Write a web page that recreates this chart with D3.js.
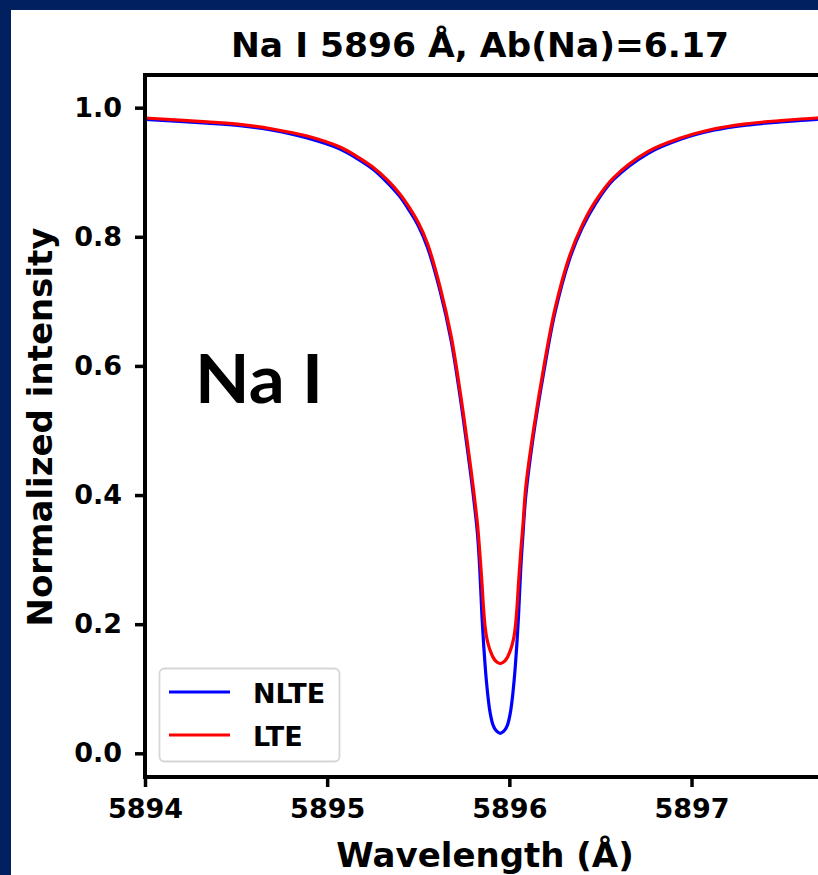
<!DOCTYPE html>
<html>
<head>
<meta charset="utf-8">
<script src="https://cdn.jsdelivr.net/npm/d3@7"></script>
<style>
  html, body { margin: 0; padding: 0; background: #002060; }
  svg { display: block; }
</style>
</head>
<body>
<svg id="chart" width="818" height="875"></svg>
<script>
// Na I 5896 Å synthetic line profiles
const wavelength = [
  5894.00, 5894.34, 5894.52, 5894.70, 5894.89, 5895.07, 5895.16, 5895.25,
  5895.33, 5895.40, 5895.45, 5895.50, 5895.55, 5895.62, 5895.68, 5895.73,
  5895.775, 5895.80, 5895.825, 5895.837, 5895.85, 5895.859, 5895.867,
  5895.875, 5895.885, 5895.895, 5895.91, 5895.925, 5895.95,
  5895.975, 5895.99, 5896.005, 5896.015, 5896.025, 5896.033, 5896.041,
  5896.05, 5896.063, 5896.075, 5896.09, 5896.13, 5896.19, 5896.25, 5896.33,
  5896.40, 5896.47, 5896.57, 5896.76, 5896.94, 5897.12, 5897.30, 5897.49,
  5897.69, 5898.00
];
const lte = [
  0.984, 0.978, 0.974, 0.967, 0.956, 0.939, 0.925, 0.908,
  0.888, 0.866, 0.846, 0.822, 0.790, 0.722, 0.647, 0.560,
  0.470, 0.416, 0.355, 0.314, 0.262, 0.222, 0.196,
  0.180, 0.168, 0.159, 0.149, 0.143, 0.139,
  0.143, 0.149, 0.159, 0.168, 0.180, 0.196, 0.222,
  0.262, 0.314, 0.355, 0.412, 0.496, 0.600, 0.688, 0.770,
  0.818, 0.854, 0.891, 0.932, 0.953, 0.967, 0.975, 0.980,
  0.984, 0.987
];
const nlte = [
  0.982, 0.976, 0.972, 0.965, 0.953, 0.936, 0.922, 0.905,
  0.884, 0.862, 0.841, 0.817, 0.784, 0.716, 0.640, 0.552,
  0.460, 0.405, 0.340, 0.288, 0.211, 0.168, 0.136,
  0.109, 0.082, 0.062, 0.044, 0.036, 0.031,
  0.036, 0.044, 0.062, 0.082, 0.109, 0.136, 0.168,
  0.211, 0.288, 0.340, 0.398, 0.488, 0.592, 0.682, 0.765,
  0.814, 0.850, 0.888, 0.929, 0.951, 0.965, 0.973, 0.978,
  0.982, 0.985
];
const series = [
  { name: "NLTE", values: nlte, color: "#0000ff" },
  { name: "LTE",  values: lte,  color: "#ff0000" }
];
const xTicks = [5894, 5895, 5896, 5897];
const yTicks = [0.0, 0.2, 0.4, 0.6, 0.8, 1.0];
const xDomain = [5894, 5898];
const yDomain = [-0.0367, 1.0506];

const svg = d3.select("#chart");
const font = "'DejaVu Sans', sans-serif";

// slide panel
svg.append("rect").attr("x", 0).attr("y", 0).attr("width", 818).attr("height", 875).attr("fill", "#002060");
svg.append("rect").attr("x", 11).attr("y", 10).attr("width", 807).attr("height", 865).attr("fill", "#ffffff");

const plot = { left: 145, top: 75, right: 873.7, bottom: 777 };
const x = d3.scaleLinear().domain(xDomain).range([plot.left, plot.right]);
const y = d3.scaleLinear().domain(yDomain).range([plot.bottom, plot.top]);

svg.append("clipPath").attr("id", "plotclip")
  .append("rect")
  .attr("x", plot.left).attr("y", plot.top)
  .attr("width", plot.right - plot.left).attr("height", plot.bottom - plot.top);

const line = d3.line()
  .x((d, i) => x(wavelength[i]))
  .y(d => y(d))
  .curve(d3.curveCatmullRom.alpha(0.5));

const lines = svg.append("g").attr("clip-path", "url(#plotclip)");
series.forEach(s => {
  lines.append("path")
    .attr("d", line(s.values))
    .attr("fill", "none")
    .attr("stroke", s.color)
    .attr("stroke-width", 3.2)
    .attr("stroke-linejoin", "round");
});

// axes
const xAxis = d3.axisBottom(x).tickValues(xTicks).tickSize(10).tickPadding(12).tickFormat(d3.format("d"));
const yAxis = d3.axisLeft(y).tickValues(yTicks).tickSize(10).tickPadding(13).tickFormat(d3.format(".1f"));

function styleAxis(g) {
  g.select(".domain").remove();
  g.selectAll(".tick line").attr("stroke", "#000").attr("stroke-width", 3.5);
  g.selectAll(".tick text")
    .attr("fill", "#000")
    .style("font-family", font)
    .style("font-weight", "bold")
    .style("font-size", "27px");
}
svg.append("g").attr("transform", `translate(0,${plot.bottom})`).call(xAxis).call(styleAxis);
svg.append("g").attr("transform", `translate(${plot.left},0)`).call(yAxis).call(styleAxis);

// spines
svg.append("rect")
  .attr("x", plot.left).attr("y", plot.top)
  .attr("width", plot.right - plot.left).attr("height", plot.bottom - plot.top)
  .attr("fill", "none").attr("stroke", "#000").attr("stroke-width", 4);

// title and axis labels
svg.append("text")
  .attr("x", 480).attr("y", 57)
  .attr("text-anchor", "middle")
  .style("font-family", font).style("font-weight", "bold").style("font-size", "34.5px")
  .text("Na I 5896 Å, Ab(Na)=6.17");

svg.append("text")
  .attr("x", 485).attr("y", 867)
  .attr("text-anchor", "middle")
  .style("font-family", font).style("font-weight", "bold").style("font-size", "34px")
  .text("Wavelength (Å)");

svg.append("text")
  .attr("transform", "translate(52,427) rotate(-90)")
  .attr("text-anchor", "middle")
  .style("font-family", font).style("font-weight", "bold").style("font-size", "34px")
  .text("Normalized intensity");

// element annotation
svg.append("text")
  .attr("x", 195).attr("y", 403)
  .attr("textLength", 128).attr("lengthAdjust", "spacingAndGlyphs")
  .style("font-family", "Lato, 'Open Sans', sans-serif").style("font-weight", "bold").style("font-size", "67px")
  .text("Na I");

// legend
const legend = svg.append("g");
legend.append("rect")
  .attr("x", 159.5).attr("y", 668.5).attr("width", 180).attr("height", 93).attr("rx", 5)
  .attr("fill", "#ffffff").attr("fill-opacity", 0.8)
  .attr("stroke", "#d6d6d6").attr("stroke-width", 1.8);
series.forEach((s, i) => {
  const ly = 692 + i * 43;
  legend.append("line")
    .attr("x1", 169).attr("x2", 230).attr("y1", ly).attr("y2", ly)
    .attr("stroke", s.color).attr("stroke-width", 3.2);
  legend.append("text")
    .attr("x", 253).attr("y", ly + 11)
    .style("font-family", font).style("font-weight", "bold").style("font-size", "27px")
    .text(s.name);
});
</script>
</body>
</html>
